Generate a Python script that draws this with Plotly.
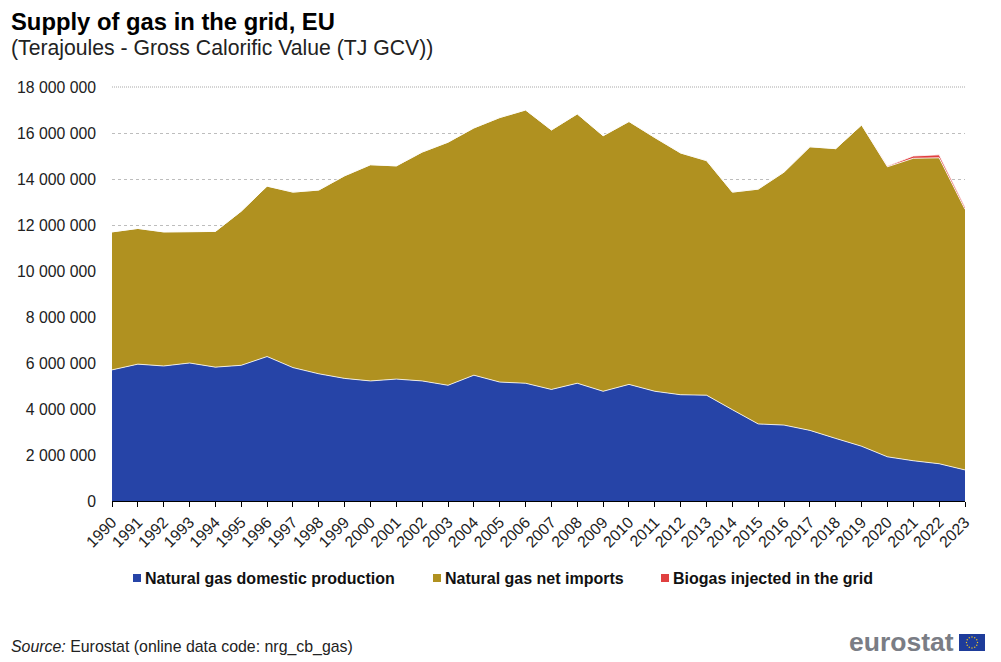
import math
import plotly.graph_objects as go

years = [str(y) for y in range(1990, 2024)]
domestic = [5.70e6, 5.95e6, 5.87e6, 6.00e6, 5.82e6, 5.90e6, 6.28e6, 5.80e6, 5.53e6, 5.33e6, 5.22e6, 5.30e6,
            5.22e6, 5.03e6, 5.47e6, 5.17e6, 5.12e6, 4.85e6, 5.12e6, 4.77e6, 5.07e6, 4.77e6, 4.62e6, 4.60e6,
            3.97e6, 3.35e6, 3.30e6, 3.07e6, 2.72e6, 2.38e6, 1.92e6, 1.75e6, 1.62e6, 1.35e6]
imports = [6.00e6, 5.90e6, 5.83e6, 5.70e6, 5.90e6, 6.70e6, 7.41e6, 7.63e6, 7.99e6, 8.81e6, 9.40e6, 9.27e6,
           9.95e6, 10.57e6, 10.75e6, 11.50e6, 11.88e6, 11.28e6, 11.71e6, 11.11e6, 11.43e6, 11.03e6, 10.51e6, 10.20e6,
           9.46e6, 10.21e6, 11.00e6, 12.33e6, 12.60e6, 13.97e6, 12.61e6, 13.15e6, 13.30e6, 11.33e6]
biogas = [0, 0, 0, 0, 0, 0, 0, 0, 0, 0, 0, 0, 0, 0, 0, 0, 0, 0, 0, 0, 0, 0, 0, 0,
          0, 0, 0, 0, 0, 0, 0.03e6, 0.10e6, 0.13e6, 0.10e6]
series_names = ["Natural gas domestic production", "Natural gas net imports", "Biogas injected in the grid"]
series_colors = ["#2644A7", "#B09120", "#E04040"]
series_values = [domestic, imports, biogas]
y_max = 18e6

W, H = 1001, 662
L, R, T, B = 112, 965, 87, 501
FONT = "Liberation Sans, Arial, sans-serif"
GRID = "#BDBDBD"

def px(x):
    return (x - L) / (R - L)

def py(y):
    return (B - y) / (B - T)

fig = go.Figure()
for name, color, vals in zip(series_names, series_colors, series_values):
    fig.add_trace(go.Scatter(
        x=years, y=vals, name=name, mode="lines", stackgroup="one",
        fillcolor=color, line=dict(color="#FFFFFF", width=0.8), showlegend=False,
    ))

annotations = [
    dict(text="<b>Supply of gas in the grid, EU</b>", x=px(9), y=py(22), size=23.8, color="#000000"),
    dict(text="(Terajoules - Gross Calorific Value (TJ GCV))", x=px(9), y=py(48), size=21.2, color="#222222"),
    dict(text="<i>Source:</i> Eurostat (online data code: nrg_cb_gas)", x=px(9), y=py(647), size=15.9, color="#222222"),
    dict(text="<b>eurostat</b>", x=px(847), y=py(642), size=26.5, color="#7A7D85"),
]
legend_squares = [137, 437, 665]
for name, color, sx in zip(series_names, series_colors, legend_squares):
    annotations.append(dict(text=f"<b>{name}</b>", x=px(sx + 6), y=py(578), size=16, color="#111111"))

# Top gridline: Plotly drops the gridline that falls on the axis edge, so it is drawn as a shape
shapes = [dict(type="line", xref="paper", yref="paper", x0=0, x1=1, y0=1, y1=1, layer="below",
               line=dict(color="#A8A8A8", width=1, dash="1px,1px"))]
for color, sx in zip(series_colors, legend_squares):
    shapes.append(dict(type="rect", xref="paper", yref="paper", x0=px(sx - 4), x1=px(sx + 4),
                       y0=py(582), y1=py(574), fillcolor=color, line=dict(width=0)))
# EU flag
shapes.append(dict(type="rect", xref="paper", yref="paper", x0=px(959), x1=px(985),
                   y0=py(651), y1=py(634), fillcolor="#1E3C9A", line=dict(width=0)))
for i in range(12):
    a = 2 * math.pi * i / 12
    cx, cy = 972 + 5.5 * math.cos(a), 642.5 + 5.5 * math.sin(a)
    shapes.append(dict(type="circle", xref="paper", yref="paper", x0=px(cx - 0.7), x1=px(cx + 0.7),
                       y0=py(cy + 0.7), y1=py(cy - 0.7), fillcolor="#F2C81E", line=dict(width=0)))

fig.update_layout(
    width=W, height=H, margin=dict(l=L, r=W - R, t=T, b=H - B, pad=0),
    paper_bgcolor="#FFFFFF", plot_bgcolor="#FFFFFF",
    font=dict(family=FONT, size=15.8, color="#222222"),
    separators=". ", showlegend=False, hovermode="x",
    xaxis=dict(type="category", range=[0, 33], tickangle=-45, ticks="outside", ticklen=5, tickcolor="#000000",
               tickwidth=1, showline=True, linecolor="#000000", linewidth=1, showgrid=False,
               tickfont=dict(size=15.8), automargin=False, dtick=1),
    yaxis=dict(range=[0, y_max], dtick=2e6, tickformat=",d", showline=False, ticks="", ticklabelstandoff=15,
               gridcolor=GRID, griddash="dot", gridwidth=0.5, zeroline=False,
               tickfont=dict(size=15.8), automargin=False),
    annotations=[dict(text=a["text"], x=a["x"], y=a["y"], xref="paper", yref="paper", xanchor="left",
                      yanchor="middle", showarrow=False, align="left",
                      font=dict(family=FONT, size=a["size"], color=a["color"])) for a in annotations],
    shapes=shapes,
)
fig.write_html("out.html", config={"displayModeBar": False},
               post_script="document.body.style.margin='0';document.documentElement.style.overflow='hidden';")
